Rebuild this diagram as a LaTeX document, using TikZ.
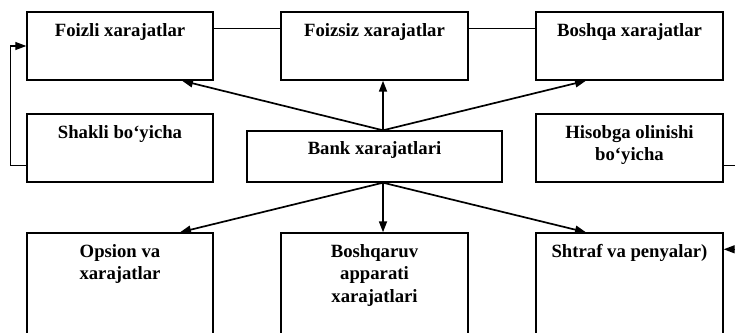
\documentclass[tikz,border=0pt]{standalone}
\usepackage{fontspec}
\setmainfont{Liberation Serif}
\usetikzlibrary{arrows.meta,calc,positioning}

\begin{document}
\begin{tikzpicture}[
  x=1pt, y=-1pt,
  box/.style={draw, line width=1.4pt, minimum width=186pt,
    minimum height=68pt, inner sep=0pt},
  txt/.style={font=\bfseries\fontsize{18.7}{22.5}\selectfont,
    align=center, inner sep=0pt, anchor=north},
  arrow/.style={-{Triangle[length=11pt,width=8pt]}, line width=1.7pt},
  link/.style={line width=1.3pt},
]
  \useasboundingbox (0,0) rectangle (735,332);
  % Top row
  \node[box] (foizli) at (120,46) {};
  \node[box, minimum width=187pt] (foizsiz) at (374.5,46) {};
  \node[box, minimum width=187pt] (boshqa) at (629.5,46) {};
  \node[txt] (foizli-t) at ([yshift=-12pt]foizli.north) {Foizli xarajatlar};
  \node[txt] (foizsiz-t) at ([yshift=-12pt]foizsiz.north) {Foizsiz xarajatlar};
  \node[txt] (boshqa-t) at ([yshift=-12pt]boshqa.north) {Boshqa xarajatlar};
  % Middle row
  \node[box] (shakli) at (120,148) {};
  \node[box, minimum width=255pt, minimum height=51pt] (bank) at (374.5,156.5) {};
  \node[box, minimum width=187pt] (hisobga) at (629.5,148) {};
  \node[txt] (shakli-t) at ([yshift=-12pt]shakli.north) {Shakli bo‘yicha};
  \node[txt] (bank-t) at ([yshift=-11pt]bank.north) {Bank xarajatlari};
  \node[txt] (hisobga-t) at ([yshift=-12pt]hisobga.north) {Hisobga olinishi\\bo‘yicha};
  % Bottom row
  \node[box, minimum height=120pt] (opsion) at (120,293) {};
  \node[box, minimum width=187pt, minimum height=120pt] (boshqaruv) at (374.5,293) {};
  \node[box, minimum width=187pt, minimum height=120pt] (shtraf) at (629.5,293) {};
  \node[txt] (opsion-t) at ([yshift=-12pt]opsion.north) {Opsion va\\xarajatlar};
  \node[txt] (boshqaruv-t) at ([yshift=-12pt]boshqaruv.north) {Boshqaruv\\apparati\\xarajatlari};
  \node[txt] (shtraf-t) at ([yshift=-12pt]shtraf.north) {Shtraf va penyalar)};
  % Links along the top
  \draw[link] ([yshift=-17pt]foizli.north east) -- ([yshift=-17pt]foizsiz.north west);
  \draw[link] ([yshift=-17pt]foizsiz.north east) -- ([yshift=-17pt]boshqa.north west);
  % Side brackets
  \draw[arrow, line width=1.3pt] ([yshift=17pt]shakli.south west) -- ++(-16,0)
    |- (foizli.west);
  \draw[arrow, line width=1.3pt] ([yshift=17pt]hisobga.south east) -- ++(20,0)
    |- ([yshift=-17pt]shtraf.north east);
  % From the centre
  \coordinate (bank-top) at ([xshift=8.5pt]bank.north);
  \coordinate (bank-bot) at ([xshift=8.5pt]bank.south);
  \draw[arrow] (bank-top) -- ([xshift=62pt]foizli.south);
  \draw[arrow] (bank-top) -- ([xshift=8.5pt]foizsiz.south);
  \draw[arrow] (bank-top) -- ([xshift=-43.5pt]boshqa.south);
  \draw[arrow] (bank-bot) -- ([xshift=60pt]opsion.north);
  \draw[arrow] (bank-bot) -- ([xshift=8.5pt]boshqaruv.north);
  \draw[arrow] (bank-bot) -- ([xshift=-43.5pt]shtraf.north);
\end{tikzpicture}
\end{document}
